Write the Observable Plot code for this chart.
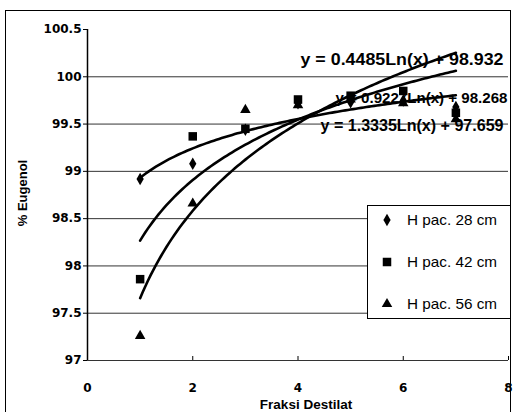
<!DOCTYPE html>
<html><head><meta charset="utf-8">
<script src="https://cdn.jsdelivr.net/npm/d3@7"></script>
<script src="https://cdn.jsdelivr.net/npm/@observablehq/plot@0.6"></script>
<style>body{margin:0;background:#fff} svg{display:block}</style>
</head><body><div id="chart"></div>
<script>
// ---- data ----
const fractions = [1, 2, 3, 4, 5, 6, 7];
const seriesNames = ["H pac. 28 cm", "H pac. 42 cm", "H pac. 56 cm"];
const eugenol28 = [98.92, 99.08, 99.44, 99.72, 99.73, 99.75, 99.68];
const eugenol42 = [97.86, 99.37, 99.45, 99.76, 99.80, 99.85, 99.62];
const eugenol56 = [97.26, 98.66, 99.65, 99.70, 99.76, 99.72, 99.55];
const trendSlopes = [0.4485, 0.9227, 1.3335];
const trendIntercepts = [98.932, 98.268, 97.659];
const yTicks = [97, 97.5, 98, 98.5, 99, 99.5, 100, 100.5];
const gridValues = [97, 97.5, 98, 98.5, 99, 99.5, 100];
const xTicks = [0, 2, 4, 6, 8];
const xLabel = "Fraksi Destilat";
const yLabel = "% Eugenol";

// ---- derived tables ----
const seriesValues = [eugenol28, eugenol42, eugenol56];
const points = seriesValues.map((vals, s) => fractions.map((x, i) => ({x, y: vals[i], s})));
const sampleX = d3.range(1, 7.0001, 0.05);
const trends = trendSlopes.flatMap((a, s) => sampleX.map(x => ({x, y: a * Math.log(x) + trendIntercepts[s], s})));
const equations = trendSlopes.map((a, s) => `y = ${a.toFixed(4)}Ln(x) + ${trendIntercepts[s].toFixed(3)}`);

const font = "'Liberation Sans', Arial, sans-serif";
const tickFont = "'DejaVu Sans', sans-serif";
const symbols = ["diamond", "square", "triangle"];
const radii = [3.8, 4.8, 3.9];
const eqPlace = [
  {dx: -5, dy: 30, size: 17, len: 203},
  {dx: -1, dy: 69, size: 15, len: 172},
  {dx: -5, dy: 96, size: 16, len: 183}
];

const chart = Plot.plot({
  width: 513, height: 412,
  marginLeft: 87, marginRight: 5, marginTop: 29, marginBottom: 52,
  style: {fontFamily: font, fontWeight: "bold", fontSize: "13px", color: "#000", background: "#fff"},
  x: {domain: [0, 8], ticks: xTicks},
  y: {domain: [97, 100.5], ticks: yTicks},
  marks: [
    Plot.ruleY(gridValues, {stroke: "#333", strokeWidth: 1}),
    Plot.ruleX([0], {stroke: "#000", strokeWidth: 1.5}),
    Plot.axisY({ticks: yTicks, tickSize: 4, tickPadding: 2, label: null, fontSize: 12, fontFamily: tickFont, tickFormat: d => String(d)}),
    Plot.axisX({ticks: xTicks, tickSize: -4, tickPadding: 27, label: null, fontSize: 12, fontFamily: tickFont}),
    Plot.text([yLabel], {frameAnchor: "left", textAnchor: "middle", lineAnchor: "middle", rotate: -90, dx: -65, dy: -2, fontSize: 13, fontWeight: "bold"}),
    Plot.text([xLabel], {frameAnchor: "bottom", textAnchor: "middle", lineAnchor: "middle", dx: 8, dy: 44, fontSize: 13.5, fontWeight: "bold"}),
    ...equations.map((eq, s) => Plot.text([eq], {
      frameAnchor: "top-right", textAnchor: "end", lineAnchor: "middle", dx: eqPlace[s].dx, dy: eqPlace[s].dy,
      fontSize: eqPlace[s].size, fontWeight: "bold"
    })),
    Plot.line(trends, {x: "x", y: "y", z: "s", stroke: "#000", strokeWidth: 2.6, curve: "linear"}),
    ...points.map((pts, s) => Plot.dot(pts, {x: "x", y: "y", symbol: () => symbols[s], r: radii[s], fill: "#000", stroke: "none"}))
  ]
});

const svg = d3.select(chart);
equations.forEach((eq, s) => {
  svg.selectAll("text").filter(function () { return this.textContent === eq; })
    .attr("textLength", eqPlace[s].len).attr("lengthAdjust", "spacingAndGlyphs");
});

// outer chart-area border
svg.append("rect").attr("x", 5.5).attr("y", 10.5).attr("width", 505).attr("height", 410)
  .attr("fill", "none").attr("stroke", "#000").attr("stroke-width", 1);

// legend box
const lg = svg.append("g").attr("font-family", font).attr("text-anchor", "start");
lg.append("rect").attr("x", 367.5).attr("y", 205.5).attr("width", 143).attr("height", 113)
  .attr("fill", "#fff").attr("stroke", "#000").attr("stroke-width", 1);
seriesNames.forEach((name, s) => {
  const cy = 220 + s * 42;
  const sym = [d3.symbolDiamond, d3.symbolSquare, d3.symbolTriangle][s];
  lg.append("path").attr("d", d3.symbol(sym, Math.PI * radii[s] * radii[s])())
    .attr("transform", `translate(387,${cy})`).attr("fill", "#000");
  lg.append("text").attr("x", 407).attr("y", cy).attr("dy", "0.35em").attr("text-anchor", "start")
    .attr("font-size", 15).attr("font-weight", "normal").attr("textLength", 90)
    .attr("lengthAdjust", "spacingAndGlyphs").text(name);
});

document.getElementById("chart").appendChild(chart);
</script>
</body></html>
